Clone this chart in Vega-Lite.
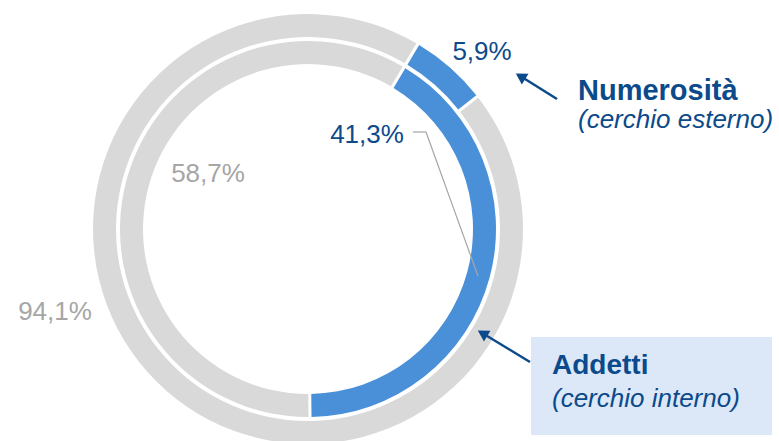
{
  "$schema": "https://vega.github.io/schema/vega-lite/v6.json",
  "width": 779,
  "height": 441,
  "autosize": "none",
  "padding": 0,
  "background": "white",
  "config": {"view": {"stroke": null}, "font": "Liberation Sans"},
  "data": {"values": [
    {"cerchio": "esterno", "serie": "evidenziato", "valore": 5.9},
    {"cerchio": "esterno", "serie": "altro", "valore": 94.1},
    {"cerchio": "interno", "serie": "evidenziato", "valore": 41.3},
    {"cerchio": "interno", "serie": "altro", "valore": 58.7}
  ]},
  "layer": [
    {
      "transform": [{"filter": "datum.cerchio === 'esterno'"}],
      "mark": {"type": "arc", "outerRadius": 215, "innerRadius": 192, "padAngle": 0.011},
      "encoding": {
        "x": {"datum": 0, "type": "quantitative", "scale": {"domain": [-308, 471], "nice": false, "zero": false}, "axis": null},
        "y": {"datum": 0, "type": "quantitative", "scale": {"domain": [-212, 229], "nice": false, "zero": false}, "axis": null},
        "theta": {"field": "valore", "type": "quantitative", "stack": true, "scale": {"range": [0.536, 6.819]}},
        "order": {"field": "valore", "sort": "ascending"},
        "color": {"field": "serie", "type": "nominal", "scale": {"domain": ["evidenziato", "altro"], "range": ["#4a90d9", "#d9d9d9"]}, "legend": null}
      }
    },
    {
      "transform": [{"filter": "datum.cerchio === 'interno'"}],
      "mark": {"type": "arc", "outerRadius": 188, "innerRadius": 165, "padAngle": 0.012},
      "encoding": {
        "x": {"datum": 0, "type": "quantitative", "scale": {"domain": [-308, 471], "nice": false, "zero": false}, "axis": null},
        "y": {"datum": 0, "type": "quantitative", "scale": {"domain": [-212, 229], "nice": false, "zero": false}, "axis": null},
        "theta": {"field": "valore", "type": "quantitative", "stack": true, "scale": {"range": [0.536, 6.819]}},
        "order": {"field": "valore", "sort": "ascending"},
        "color": {"field": "serie", "type": "nominal", "scale": {"domain": ["evidenziato", "altro"], "range": ["#4a90d9", "#d9d9d9"]}, "legend": null}
      }
    },
    {
      "data": {"values": [{}]},
      "mark": {"type": "rect", "color": "#dce8f7"},
      "encoding": {
        "x": {"datum": 223, "type": "quantitative"},
        "x2": {"datum": 464},
        "y": {"datum": -108, "type": "quantitative"},
        "y2": {"datum": -206}
      }
    },
    {
      "data": {"values": [{}]},
      "mark": {"type": "rule", "color": "#a6a6a6", "strokeWidth": 1.2},
      "encoding": {
        "x": {"datum": 105, "type": "quantitative"},
        "x2": {"datum": 118},
        "y": {"datum": 97, "type": "quantitative"},
        "y2": {"datum": 97}
      }
    },
    {
      "data": {"values": [{}]},
      "mark": {"type": "rule", "color": "#a6a6a6", "strokeWidth": 1.2},
      "encoding": {
        "x": {"datum": 118, "type": "quantitative"},
        "x2": {"datum": 170},
        "y": {"datum": 97, "type": "quantitative"},
        "y2": {"datum": -47}
      }
    },
    {
      "data": {"values": [{}]},
      "mark": {"type": "rule", "color": "#0b4a8b", "strokeWidth": 2.5},
      "encoding": {
        "x": {"datum": 213, "type": "quantitative"},
        "x2": {"datum": 249},
        "y": {"datum": 152.5, "type": "quantitative"},
        "y2": {"datum": 130}
      }
    },
    {
      "data": {"values": [{}]},
      "mark": {"type": "point", "shape": "triangle-up", "filled": true, "color": "#0b4a8b", "size": 160, "angle": 302, "opacity": 1},
      "encoding": {
        "x": {"datum": 212.5, "type": "quantitative"},
        "y": {"datum": 152.7, "type": "quantitative"}
      }
    },
    {
      "data": {"values": [{}]},
      "mark": {"type": "rule", "color": "#0b4a8b", "strokeWidth": 2.5},
      "encoding": {
        "x": {"datum": 175, "type": "quantitative"},
        "x2": {"datum": 222},
        "y": {"datum": -104.5, "type": "quantitative"},
        "y2": {"datum": -133}
      }
    },
    {
      "data": {"values": [{}]},
      "mark": {"type": "point", "shape": "triangle-up", "filled": true, "color": "#0b4a8b", "size": 160, "angle": 301, "opacity": 1},
      "encoding": {
        "x": {"datum": 174.5, "type": "quantitative"},
        "y": {"datum": -104.3, "type": "quantitative"}
      }
    },
    {
      "data": {"values": [{}]},
      "mark": {"type": "text", "text": "5,9%", "align": "center", "baseline": "alphabetic", "fontSize": 26, "color": "#0b4a8b"},
      "encoding": {"x": {"datum": 174, "type": "quantitative"}, "y": {"datum": 169, "type": "quantitative"}}
    },
    {
      "data": {"values": [{}]},
      "mark": {"type": "text", "text": "41,3%", "align": "center", "baseline": "alphabetic", "fontSize": 26, "color": "#0b4a8b"},
      "encoding": {"x": {"datum": 59, "type": "quantitative"}, "y": {"datum": 86, "type": "quantitative"}}
    },
    {
      "data": {"values": [{}]},
      "mark": {"type": "text", "text": "58,7%", "align": "center", "baseline": "alphabetic", "fontSize": 26, "color": "#a6a6a6"},
      "encoding": {"x": {"datum": -100, "type": "quantitative"}, "y": {"datum": 47, "type": "quantitative"}}
    },
    {
      "data": {"values": [{}]},
      "mark": {"type": "text", "text": "94,1%", "align": "center", "baseline": "alphabetic", "fontSize": 26, "color": "#a6a6a6"},
      "encoding": {"x": {"datum": -253, "type": "quantitative"}, "y": {"datum": -91, "type": "quantitative"}}
    },
    {
      "data": {"values": [{}]},
      "mark": {"type": "text", "text": "Numerosità", "align": "left", "baseline": "alphabetic", "fontSize": 29, "fontWeight": "bold", "color": "#0b4a8b"},
      "encoding": {"x": {"datum": 270, "type": "quantitative"}, "y": {"datum": 129, "type": "quantitative"}}
    },
    {
      "data": {"values": [{}]},
      "mark": {"type": "text", "text": "(cerchio esterno)", "align": "left", "baseline": "alphabetic", "fontSize": 26, "fontStyle": "italic", "color": "#0b4a8b"},
      "encoding": {"x": {"datum": 270, "type": "quantitative"}, "y": {"datum": 101, "type": "quantitative"}}
    },
    {
      "data": {"values": [{}]},
      "mark": {"type": "text", "text": "Addetti", "align": "left", "baseline": "alphabetic", "fontSize": 28, "fontWeight": "bold", "color": "#0b4a8b"},
      "encoding": {"x": {"datum": 244, "type": "quantitative"}, "y": {"datum": -145, "type": "quantitative"}}
    },
    {
      "data": {"values": [{}]},
      "mark": {"type": "text", "text": "(cerchio interno)", "align": "left", "baseline": "alphabetic", "fontSize": 26, "fontStyle": "italic", "color": "#0b4a8b"},
      "encoding": {"x": {"datum": 244, "type": "quantitative"}, "y": {"datum": -178, "type": "quantitative"}}
    }
  ]
}
